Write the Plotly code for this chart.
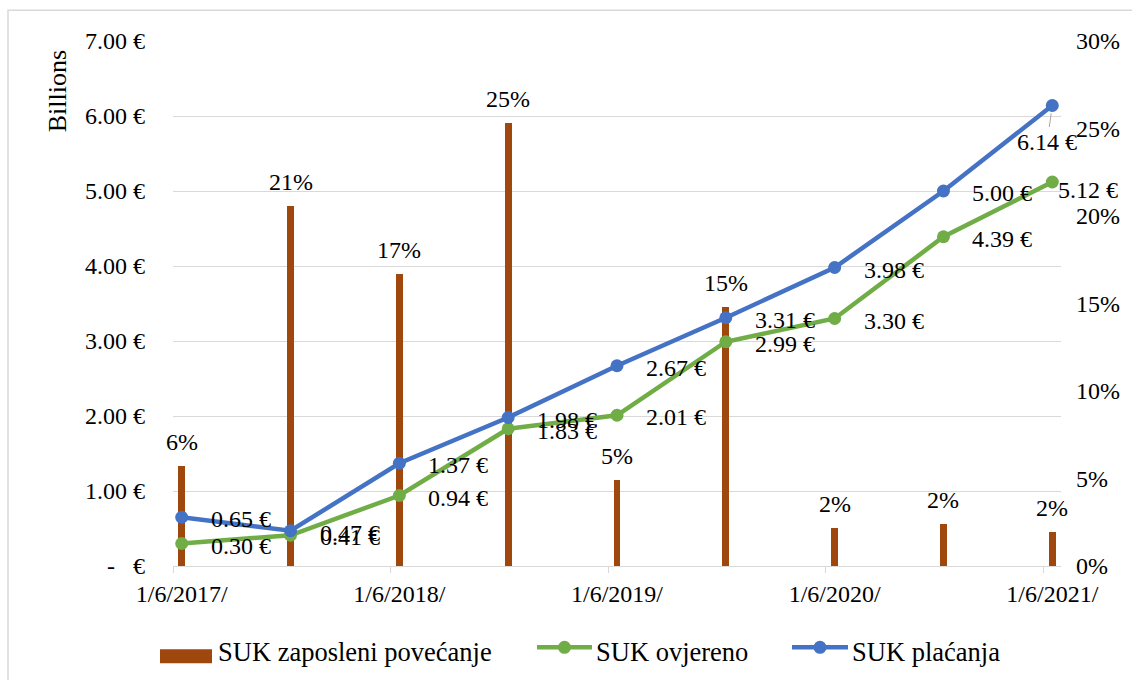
import plotly.graph_objects as go

# Half-yearly reporting periods
periods = ["1/6/2017", "1/12/2017", "1/6/2018", "1/12/2018", "1/6/2019",
           "1/12/2019", "1/6/2020", "1/12/2020", "1/6/2021"]
tick_labels = ["1/6/2017/", "1/6/2018/", "1/6/2019/", "1/6/2020/", "1/6/2021/"]

# Employee increase (share), billions certified, billions paid
zaposleni_povecanje = [0.057, 0.206, 0.167, 0.253, 0.049, 0.148, 0.022, 0.024, 0.0195]
ovjereno = [0.30, 0.41, 0.94, 1.83, 2.01, 2.99, 3.30, 4.39, 5.12]
placanja = [0.65, 0.47, 1.37, 1.98, 2.67, 3.31, 3.98, 5.00, 6.14]

series_names = ["SUK zaposleni povećanje", "SUK ovjereno", "SUK plaćanja"]
euro_ticks = ["-\u00a0\u00a0\u00a0€", "1.00 €", "2.00 €", "3.00 €", "4.00 €", "5.00 €", "6.00 €", "7.00 €"]

ORANGE = "#9E480E"
GREEN = "#70AD47"
BLUE = "#4472C4"
GRID = "#D9D9D9"
FONT = "Liberation Serif"
FS = 24
FS_LEG = 26.5

W, H = 1132, 680
L, R, T, B = 173, 71, 40.7, 114.3
PW, PH = W - L - R, H - T - B


def px(xp):
    return (xp - L) / PW


def py(yp):
    return (H - B - yp) / PH


xs = list(range(len(periods)))

fig = go.Figure()

fig.add_trace(go.Bar(
    x=xs, y=zaposleni_povecanje, name=series_names[0],
    marker=dict(color=ORANGE, line=dict(width=0)), width=0.062,
    yaxis="y", showlegend=False,
))
fig.add_trace(go.Scatter(
    x=xs, y=ovjereno, name=series_names[1], mode="lines+markers",
    line=dict(color=GREEN, width=4.5), marker=dict(size=13, color=GREEN),
    yaxis="y2", showlegend=False,
))
fig.add_trace(go.Scatter(
    x=xs, y=placanja, name=series_names[2], mode="lines+markers",
    line=dict(color=BLUE, width=4.5), marker=dict(size=13, color=BLUE),
    yaxis="y2", showlegend=False,
))

annotations = []
# percentage labels above the bars
for i, v in enumerate(zaposleni_povecanje):
    annotations.append(dict(
        x=i, y=v, xref="x", yref="y", text=f"{v:.0%}", showarrow=False,
        xanchor="center", yanchor="bottom", yshift=9,
        font=dict(family=FONT, size=FS, color="black"),
    ))

# euro labels to the right of the line points
label_offsets = {
    ("placanja", 8): None,
    ("ovjereno", 8): (4, -8),
}
for key, vals in (("ovjereno", ovjereno), ("placanja", placanja)):
    for i, v in enumerate(vals):
        off = label_offsets.get((key, i), (27, -2))
        if off is None:
            annotations.append(dict(
                x=i, y=v, xref="x", yref="y2", text=f"{v:.2f} €",
                showarrow=True, arrowhead=0, arrowwidth=1, arrowcolor="#A6A6A6",
                ax=-5, ay=36, standoff=8,
                font=dict(family=FONT, size=FS, color="black"),
            ))
        else:
            annotations.append(dict(
                x=i, y=v, xref="x", yref="y2", text=f"{v:.2f} €", showarrow=False,
                xanchor="left", yanchor="middle", xshift=off[0], yshift=off[1],
                font=dict(family=FONT, size=FS, color="black"),
            ))

# axis unit title
annotations.append(dict(
    x=px(57), y=py(91), xref="paper", yref="paper", text="Billions",
    textangle=-90, showarrow=False, xanchor="center", yanchor="middle",
    font=dict(family=FONT, size=26, color="black"),
))

shapes = [
    # outer chart border
    dict(type="rect", xref="paper", yref="paper", x0=px(8), y0=py(H + 20),
         x1=px(W + 20), y1=py(10), line=dict(color=GRID, width=1.5), layer="below"),
]

# legend
text_y = 652
line_y = 647
shapes.append(dict(type="rect", xref="paper", yref="paper",
                   x0=px(160), x1=px(212), y0=py(663), y1=py(649),
                   fillcolor=ORANGE, line=dict(width=0)))
annotations.append(dict(x=px(216), y=py(text_y), xref="paper", yref="paper",
                        text=series_names[0], showarrow=False, xanchor="left",
                        yanchor="middle", font=dict(family=FONT, size=FS_LEG, color="black")))
for (x0, x1, col, name) in ((537, 592, GREEN, series_names[1]), (792, 848, BLUE, series_names[2])):
    shapes.append(dict(type="line", xref="paper", yref="paper",
                       x0=px(x0), x1=px(x1), y0=py(line_y), y1=py(line_y),
                       line=dict(color=col, width=4.5)))
    cx = (x0 + x1) / 2
    shapes.append(dict(type="circle", xref="paper", yref="paper",
                       x0=px(cx - 6.5), x1=px(cx + 6.5), y0=py(line_y + 6.5), y1=py(line_y - 6.5),
                       fillcolor=col, line=dict(width=0)))
    annotations.append(dict(x=px(x1 + 2), y=py(text_y), xref="paper", yref="paper",
                            text=name, showarrow=False, xanchor="left",
                            yanchor="middle", font=dict(family=FONT, size=FS_LEG, color="black")))

fig.update_layout(
    width=W, height=H,
    margin=dict(l=L, r=R, t=T, b=B, pad=0),
    paper_bgcolor="white", plot_bgcolor="white",
    font=dict(family=FONT, size=FS, color="black"),
    showlegend=False,
    bargap=0,
    xaxis=dict(
        range=[-0.08, len(periods) - 1 + 0.08],
        tickmode="array", tickvals=xs[::2], ticktext=tick_labels,
        ticks="", showgrid=False, zeroline=False,
        showline=True, linecolor=GRID, linewidth=1.3,
        ticklabelstandoff=6,
        minor=dict(ticks="outside", ticklen=6, tickcolor=GRID, tickwidth=1.3,
                   tick0=-0.08, dtick=2, showgrid=False),
        tickfont=dict(family=FONT, size=FS, color="black"),
    ),
    yaxis=dict(
        side="right", range=[0, 0.30], tickmode="linear", tick0=0, dtick=0.05,
        tickformat=".0%", showgrid=False, zeroline=False, showline=False,
        ticks="", ticklabelstandoff=14,
        tickfont=dict(family=FONT, size=FS, color="black"),
    ),
    yaxis2=dict(
        overlaying="y", side="left", range=[0, 7],
        tickmode="array", tickvals=list(range(len(euro_ticks))), ticktext=euro_ticks,
        showgrid=True, gridcolor=GRID, gridwidth=1.3, zeroline=False, showline=False,
        ticks="", ticklabelstandoff=27,
        tickfont=dict(family=FONT, size=FS, color="black"),
    ),
    annotations=annotations,
    shapes=shapes,
)

fig.write_html("out.html")
